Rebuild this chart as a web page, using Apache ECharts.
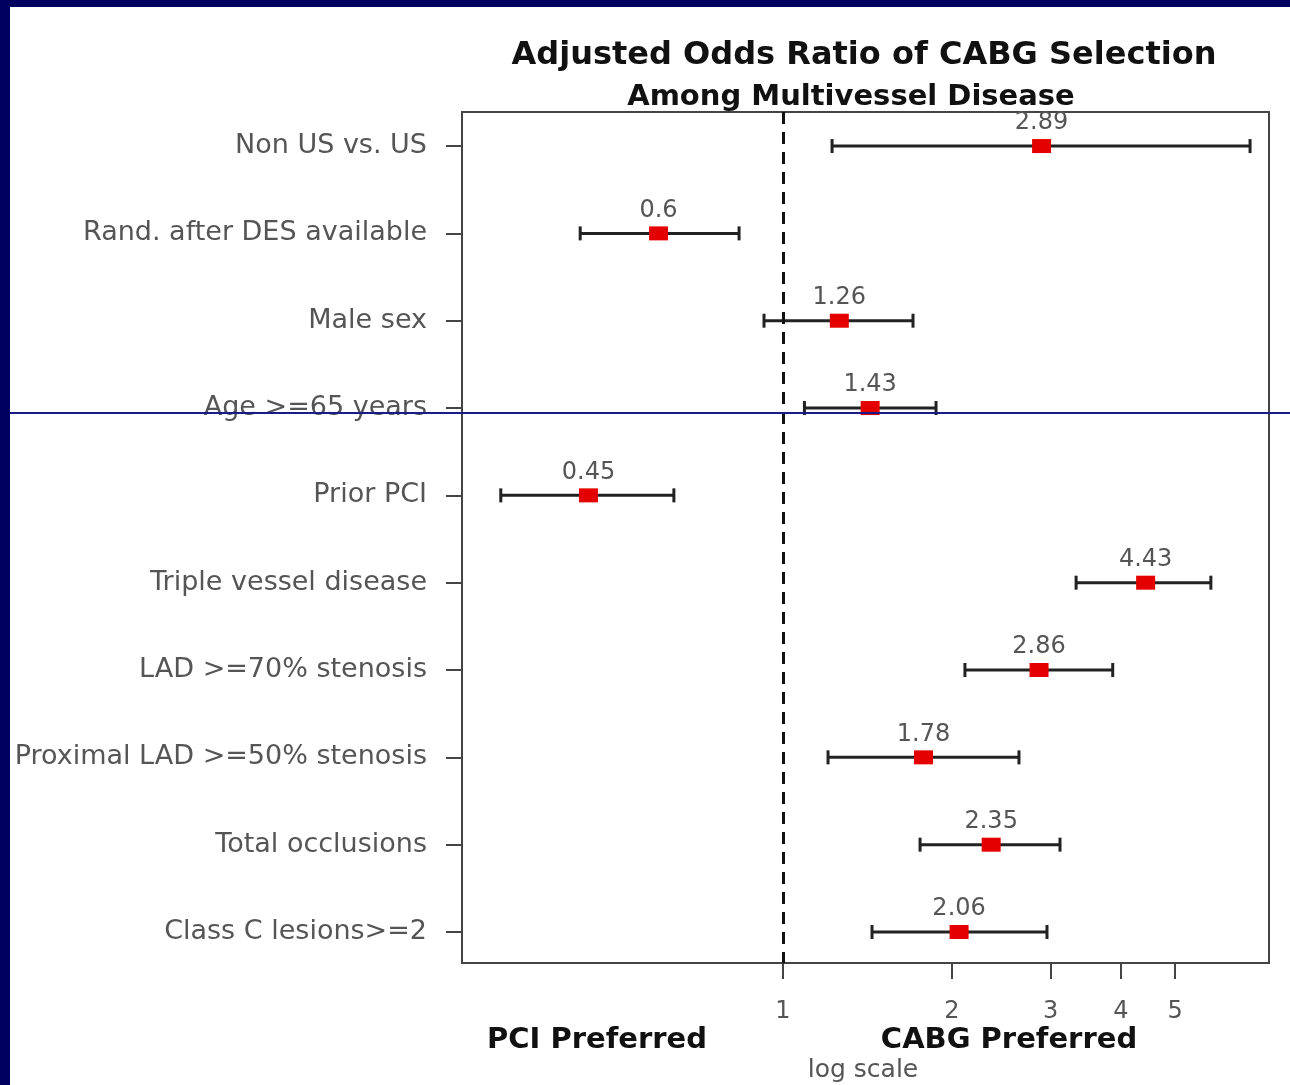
<!DOCTYPE html>
<html>
<head>
<meta charset="utf-8">
<script src="https://cdn.jsdelivr.net/npm/echarts@6/dist/echarts.min.js"></script>
<style>
html,body{margin:0;padding:0;background:#ffffff;}
#chart{width:1290px;height:1085px;}
</style>
</head>
<body>
<div id="chart"></div>
<script>
const categories = [
  "Non US vs. US",
  "Rand. after DES available",
  "Male sex",
  "Age >=65 years",
  "Prior PCI",
  "Triple vessel disease",
  "LAD >=70% stenosis",
  "Proximal LAD >=50% stenosis",
  "Total occlusions",
  "Class C lesions>=2"
];
const oddsRatio = [2.89, 0.6, 1.26, 1.43, 0.45, 4.43, 2.86, 1.78, 2.35, 2.06];
const ciLower   = [1.223, 0.435, 0.925, 1.092, 0.314, 3.33, 2.11, 1.203, 1.755, 1.441];
const ciUpper   = [6.80, 0.835, 1.705, 1.874, 0.639, 5.79, 3.87, 2.634, 3.117, 2.955];
const xTickValues = [1, 2, 3, 4, 5];
const rowIndex = categories.map((c, i) => i);

const chart = echarts.init(document.getElementById('chart'), null, {renderer: 'canvas'});

const ciData = rowIndex.map(i => [i, ciLower[i], ciUpper[i]]);
const pointData = rowIndex.map(i => [oddsRatio[i], i]);

const FONT = '"DejaVu Sans", "Liberation Sans", Arial, sans-serif';

chart.setOption({
  backgroundColor: '#ffffff',
  animation: false,
  grid: {
    left: 462, top: 112, width: 807, height: 851,
    show: true, borderColor: '#444', borderWidth: 2, backgroundColor: 'transparent'
  },
  xAxis: {
    type: 'log', logBase: 10, min: 0.2678, max: 7.35,
    position: 'bottom',
    axisLine: {show: false, onZero: false},
    splitLine: {show: false},
    minorTick: {show: false},
    axisTick: {show: true, customValues: xTickValues, length: 16, lineStyle: {color: '#444', width: 2}},
    axisLabel: {show: true, customValues: xTickValues, margin: 37, color: '#555', fontSize: 24, fontFamily: FONT,
      formatter: v => String(v)}
  },
  yAxis: {
    type: 'value', inverse: true, min: -0.39, max: 9.355,
    position: 'left',
    axisLine: {show: false, onZero: false},
    splitLine: {show: false},
    axisTick: {show: true, customValues: rowIndex, length: 16, lineStyle: {color: '#444', width: 2}},
    axisLabel: {show: true, customValues: rowIndex, margin: 35, color: '#555', fontSize: 27, fontFamily: FONT,
      formatter: v => categories[Math.round(v)]}
  },
  series: [
    {
      type: 'custom',
      data: ciData,
      encode: {x: [1, 2], y: 0},
      z: 3,
      renderItem: function (params, api) {
        const y = api.value(0);
        const p1 = api.coord([api.value(1), y]);
        const p2 = api.coord([api.value(2), y]);
        const st = {stroke: '#222', lineWidth: 3};
        const cap = 7;
        return {
          type: 'group',
          children: [
            {type: 'line', shape: {x1: p1[0], y1: p1[1], x2: p2[0], y2: p2[1]}, style: st},
            {type: 'line', shape: {x1: p1[0], y1: p1[1] - cap, x2: p1[0], y2: p1[1] + cap}, style: st},
            {type: 'line', shape: {x1: p2[0], y1: p2[1] - cap, x2: p2[0], y2: p2[1] + cap}, style: st}
          ]
        };
      }
    },
    {
      type: 'scatter',
      data: pointData,
      symbol: 'rect',
      symbolSize: [19, 14],
      z: 5,
      itemStyle: {color: '#e50000', opacity: 1},
      label: {
        show: true, position: 'top', distance: 4,
        color: '#555', fontSize: 24, fontFamily: FONT,
        formatter: p => String(p.value[0])
      },
      markLine: {
        silent: true,
        symbol: ['none', 'none'],
        label: {show: false},
        lineStyle: {type: [12, 8], color: '#111', width: 3},
        data: [{xAxis: 1}]
      }
    }
  ],
  graphic: [
    {type: 'rect', shape: {x: 0, y: 0, width: 10, height: 1085}, style: {fill: '#000060'}, z: 100},
    {type: 'rect', shape: {x: 0, y: 0, width: 1290, height: 7}, style: {fill: '#000060'}, z: 100},
    {type: 'line', shape: {x1: 10, y1: 413, x2: 1290, y2: 413}, style: {stroke: '#1a1a88', lineWidth: 2}, z: 100},
    {type: 'text', x: 864, y: 56, style: {text: 'Adjusted Odds Ratio of CABG Selection', fill: '#111',
      font: 'bold 32px ' + FONT, textAlign: 'center', textVerticalAlign: 'middle'}},
    {type: 'text', x: 851, y: 97, style: {text: 'Among Multivessel Disease', fill: '#111',
      font: 'bold 29px ' + FONT, textAlign: 'center', textVerticalAlign: 'middle'}},
    {type: 'text', x: 597, y: 1040, style: {text: 'PCI Preferred', fill: '#111',
      font: 'bold 29px ' + FONT, textAlign: 'center', textVerticalAlign: 'middle'}},
    {type: 'text', x: 1009, y: 1040, style: {text: 'CABG Preferred', fill: '#111',
      font: 'bold 29px ' + FONT, textAlign: 'center', textVerticalAlign: 'middle'}},
    {type: 'text', x: 863, y: 1070, style: {text: 'log scale', fill: '#555',
      font: '25px ' + FONT, textAlign: 'center', textVerticalAlign: 'middle'}}
  ]
});
</script>
</body>
</html>
